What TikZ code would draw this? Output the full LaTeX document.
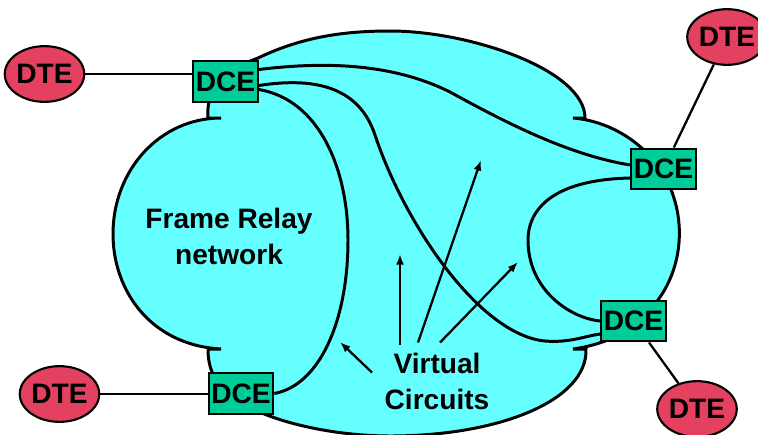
\documentclass[tikz,border=0pt]{standalone}
\usepackage{fontspec}
\setmainfont{Liberation Sans}
\usetikzlibrary{arrows.meta,calc,shapes.geometric}
\definecolor{cloudcyan}{HTML}{66FFFF}
\definecolor{dcegreen}{HTML}{00CC99}
\definecolor{dtered}{HTML}{E4405F}
\begin{document}
\begin{tikzpicture}[x=0.02cm,y=-0.02cm,every node/.style={font=\fontsize{16}{20.5}\selectfont\bfseries},
  dce/.style={draw,fill=dcegreen,line width=1.2pt,minimum width=36.8pt,minimum height=23.2pt,inner sep=1pt},
  dte/.style={ellipse,draw,fill=dtered,line width=1.2pt,minimum width=41.4pt,minimum height=31.7pt,inner sep=0pt},
  vc/.style={line width=1.7pt},
  link/.style={line width=1.3pt},
  pointer/.style={line width=1.3pt,-{Latex[length=6pt,width=4.5pt]}}]
  \useasboundingbox (0,0) rectangle (758,434);
  \filldraw[fill=cloudcyan,line width=1.7pt] (208,118) .. controls (206,90) and (220,72) .. (258,58)
    .. controls (300,38) and (340,31) .. (390,31) .. controls (470,31) and (585,70) .. (585,118) -- (573,118)
    .. controls (620,122) and (660,155) .. (673,195) .. controls (685,230) and (680,270) .. (658,300)
    .. controls (640,325) and (615,343) .. (573,349) -- (586,349)
    .. controls (588,400) and (500,436) .. (390,436) .. controls (330,436) and (260,420) .. (230,395)
    .. controls (212,380) and (208,365) .. (208,349) -- (221,349)
    .. controls (150,345) and (113,290) .. (113,234) .. controls (113,170) and (160,118) .. (221,118) -- cycle;
  \node[dce] (dceNW) at (225.5,81.5) {DCE};
  \node[dce] (dceNE) at (663.5,169) {DCE};
  \node[dce] (dceSE) at (633.5,321) {DCE};
  \node[dce] (dceSW) at (241,393.5) {DCE};
  \node[dte] (dteNW) at (44.5,74) {DTE};
  \node[dte] (dteNE) at (727,37) {DTE};
  \node[dte] (dteSE) at (697,409) {DTE};
  \node[dte] (dteSW) at (59.5,394) {DTE};
  \node[align=center] (frnet) at (229,236) {Frame Relay\\network};
  \node[align=center] (vclabel) at (437,381.5) {Virtual\\Circuits};
  \draw[link] (dteNW) -- (dceNW.west |- dteNW);
  \draw[link] (dteSW) -- (dceSW.west |- dteSW);
  \draw[link] (dteNE) -- (dceNE);
  \draw[link] (dceSE) -- (dteSE);
  \draw[vc] ($(dceNW.east)+(0,-12)$) .. controls (320,62) and (390,62) .. (450,92)
    .. controls (510,125) and (570,155) .. ($(dceNE.west)+(0,-4)$);
  \draw[vc] ($(dceNW.east)+(0,4)$) .. controls (320,76) and (360,90) .. (375,135)
    .. controls (405,225) and (480,335) .. (545,341) .. controls (570,343) and (585,336) .. ($(dceSE.west)+(0,13)$);
  \draw[vc] ($(dceNW.east)+(0,8)$) .. controls (320,100) and (348,170) .. (348,240)
    .. controls (348,320) and (320,385) .. (dceSW.east);
  \draw[vc] ($(dceNE.west)+(0,9)$) .. controls (545,180) and (528,215) .. (528,240)
    .. controls (528,290) and (570,318) .. (dceSE.west);
  \coordinate (tipUp) at (400,254);
  \coordinate (tipFar) at (481,160);
  \coordinate (tipRight) at (518,262);
  \coordinate (tipLeft) at (340,342);
  \draw[pointer] ($(vclabel)+(-37,-37)$) -- (tipUp);
  \draw[pointer] ($(vclabel)+(-19,-39)$) -- (tipFar);
  \draw[pointer] ($(vclabel)+(3,-39)$) -- (tipRight);
  \draw[pointer] ($(vclabel)+(-65,-9)$) -- (tipLeft);
\end{tikzpicture}
\end{document}
